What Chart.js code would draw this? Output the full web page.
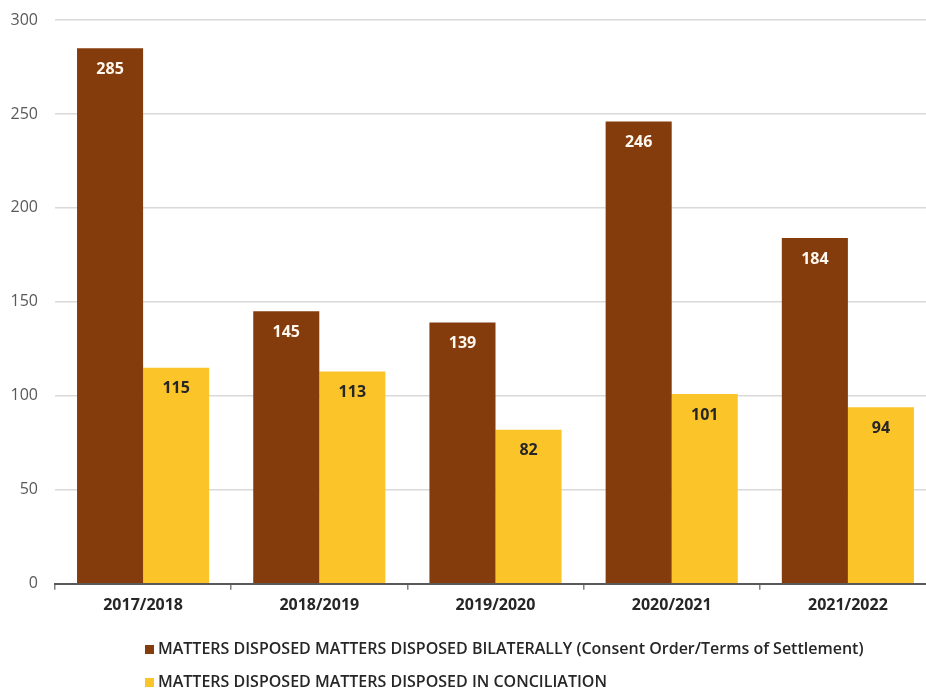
<!DOCTYPE html>
<html>
<head>
<meta charset="utf-8">
<script src="https://cdn.jsdelivr.net/npm/chart.js@4.4.1/dist/chart.umd.min.js"></script>
<style>
  html,body{margin:0;padding:0;background:#fff;overflow:hidden;}
  #wrap{width:926px;height:692px;overflow:hidden;}
</style>
</head>
<body>
<div id="wrap"><canvas id="c" width="936" height="692"></canvas></div>
<script>
// disposed matters by financial year
const years = ['2017/2018','2018/2019','2019/2020','2020/2021','2021/2022'];
const bilateral = [285,145,139,246,184];
const conciliation = [115,113,82,101,94];
const seriesNames = [
  'MATTERS DISPOSED MATTERS DISPOSED BILATERALLY (Consent Order/Terms of Settlement)',
  'MATTERS DISPOSED MATTERS DISPOSED IN CONCILIATION'
];
const yTicks = [0,50,100,150,200,250,300];

const BROWN = '#843c0c';
const GOLD = '#fbc52a';
const FONT = '"Open Sans", "Liberation Sans", sans-serif';

// value labels just inside the top of each bar
const barLabels = {
  id:'barLabels',
  afterDatasetsDraw(chart){
    const ctx = chart.ctx;
    ctx.save();
    ctx.font = 'bold 16px ' + FONT;
    ctx.textAlign = 'center';
    ctx.textBaseline = 'middle';
    chart.data.datasets.forEach((ds,i)=>{
      chart.getDatasetMeta(i).data.forEach((bar,j)=>{
        ctx.fillStyle = i===0 ? '#fff8ee' : '#262626';
        ctx.fillText(String(ds.data[j]), bar.x, bar.y + 21);
      });
    });
    ctx.restore();
  }
};

// two-row legend under the axis, left aligned
const rowLegend = {
  id:'rowLegend',
  afterDraw(chart){
    const ctx = chart.ctx;
    ctx.save();
    ctx.font = '600 16px ' + FONT;
    ctx.textBaseline = 'middle';
    ctx.textAlign = 'left';
    chart.data.datasets.forEach((ds,i)=>{
      const y = 649 + i*33;
      ctx.fillStyle = ds.backgroundColor;
      ctx.fillRect(145, y-4, 9, 9);
      ctx.fillStyle = '#262626';
      ctx.fillText(ds.label, 158, y);
    });
    ctx.restore();
  }
};

new Chart(document.getElementById('c'),{
  type:'bar',
  data:{
    labels:years,
    datasets:[
      {label:seriesNames[0],data:bilateral,backgroundColor:BROWN},
      {label:seriesNames[1],data:conciliation,backgroundColor:GOLD}
    ]
  },
  options:{
    responsive:false,
    animation:false,
    layout:{padding:{top:20,bottom:71,left:0,right:0}},
    categoryPercentage:0.75,
    barPercentage:1,
    plugins:{legend:{display:false},tooltip:{enabled:false}},
    scales:{
      x:{
        grid:{display:true,drawOnChartArea:false,drawTicks:true,tickLength:6,offset:true,color:'#7f7f7f',lineWidth:1.5},
        border:{display:true,color:'#595959',width:2},
        ticks:{color:'#262626',font:{family:FONT,size:16,weight:'bold'},padding:6}
      },
      y:{
        min:0,max:300,
        afterBuildTicks(axis){axis.ticks = yTicks.map(v=>({value:v}));},
        afterFit(axis){axis.width = 55; axis.paddingTop = 0; axis.paddingBottom = 0;},
        grid:{color:'#d9d9d9',lineWidth:1.5,drawTicks:false},
        border:{display:false},
        ticks:{color:'#595959',font:{family:FONT,size:16},padding:17}
      }
    }
  },
  plugins:[barLabels,rowLegend]
});
</script>
</body>
</html>
